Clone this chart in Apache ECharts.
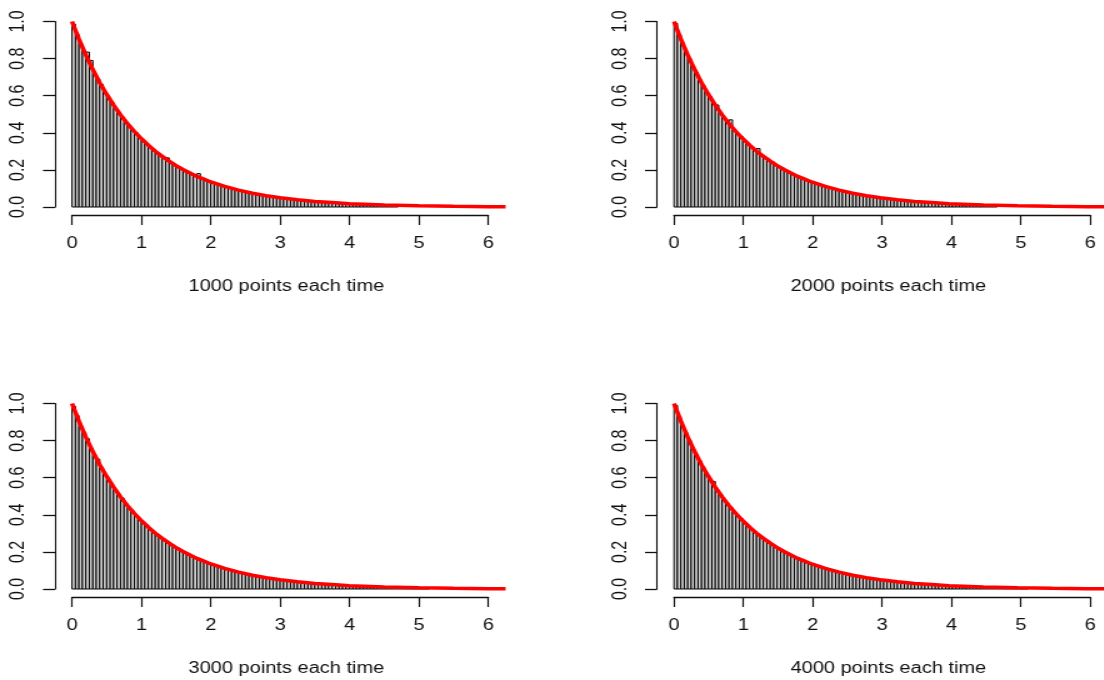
<!DOCTYPE html>
<html>
<head>
<meta charset="utf-8">
<script src="https://cdn.jsdelivr.net/npm/echarts@6/dist/echarts.min.js"></script>
<style>
  html, body { margin: 0; padding: 0; background: #fff; overflow: hidden; }
  /* the plot is laid out on a narrower canvas and widened, like the original device */
  #chart { width: 883.2px; height: 680px; transform: scaleX(1.25); transform-origin: 0 0; }
</style>
</head>
<body>
<div id="chart"></div>
<script>
// Histogram bin width (density scale) and panel captions
const binWidth = 0.05;
const panelTitles = ['1000 points each time', '2000 points each time', '3000 points each time', '4000 points each time'];
const xTickLabels = ['0', '1', '2', '3', '4', '5', '6'];
const yTickLabels = ['0.0', '0.2', '0.4', '0.6', '0.8', '1.0'];

// Bin densities, one value per 0.05-wide bin starting at 0
const density1000 = [
  0.985, 0.93, 0.88, 0.84, 0.835, 0.79, 0.72, 0.69, 0.66, 0.62, 0.59, 0.565, 0.53, 0.51, 0.485, 0.455, 0.44, 0.415, 0.40, 0.375,
  0.36, 0.34, 0.325, 0.31, 0.29, 0.28, 0.265, 0.265, 0.24, 0.23, 0.215, 0.205, 0.19, 0.19, 0.18, 0.175, 0.18, 0.155, 0.145, 0.14,
  0.13, 0.125, 0.12, 0.115, 0.105, 0.10, 0.097, 0.092, 0.088, 0.083, 0.079, 0.074, 0.072, 0.068, 0.066, 0.061, 0.058, 0.056, 0.053, 0.051,
  0.048, 0.046, 0.044, 0.041, 0.040, 0.037, 0.036, 0.034, 0.032, 0.031, 0.029, 0.028, 0.027, 0.024, 0.024, 0.022, 0.022, 0.020, 0.019, 0.019,
  0.018, 0.017, 0.015, 0.016, 0.014, 0.013, 0.012, 0.013, 0.011, 0.010, 0.011, 0.009, 0.010, 0.012
];
const density2000 = [
  0.99, 0.93, 0.885, 0.835, 0.80, 0.76, 0.725, 0.685, 0.655, 0.62, 0.595, 0.56, 0.55, 0.505, 0.485, 0.46, 0.47, 0.415, 0.395, 0.38,
  0.355, 0.34, 0.325, 0.31, 0.315, 0.28, 0.265, 0.25, 0.245, 0.23, 0.215, 0.21, 0.195, 0.185, 0.18, 0.17, 0.16, 0.152, 0.146, 0.138,
  0.131, 0.126, 0.12, 0.113, 0.108, 0.103, 0.098, 0.093, 0.088, 0.084, 0.080, 0.076, 0.072, 0.069, 0.065, 0.063, 0.059, 0.056, 0.054, 0.051,
  0.049, 0.046, 0.044, 0.042, 0.040, 0.038, 0.036, 0.034, 0.033, 0.031, 0.029, 0.028, 0.027, 0.025, 0.024, 0.023, 0.022, 0.021, 0.020, 0.019,
  0.018, 0.017, 0.016, 0.015, 0.015, 0.014, 0.013, 0.012, 0.012, 0.011, 0.010, 0.010, 0.009, 0.012
];
const density3000 = [
  0.985, 0.935, 0.875, 0.845, 0.81, 0.76, 0.72, 0.70, 0.655, 0.62, 0.59, 0.56, 0.535, 0.51, 0.49, 0.46, 0.435, 0.42, 0.395, 0.375,
  0.36, 0.345, 0.32, 0.305, 0.295, 0.28, 0.265, 0.25, 0.24, 0.23, 0.22, 0.205, 0.195, 0.19, 0.175, 0.17, 0.16, 0.155, 0.145, 0.14,
  0.13, 0.125, 0.12, 0.112, 0.108, 0.104, 0.097, 0.093, 0.089, 0.084, 0.079, 0.076, 0.073, 0.068, 0.066, 0.062, 0.060, 0.056, 0.053, 0.051,
  0.049, 0.046, 0.044, 0.042, 0.040, 0.038, 0.036, 0.034, 0.032, 0.031, 0.030, 0.028, 0.027, 0.025, 0.024, 0.023, 0.022, 0.021, 0.020, 0.019,
  0.018, 0.017, 0.016, 0.015, 0.015, 0.014, 0.013, 0.012, 0.012, 0.011, 0.010, 0.010, 0.009, 0.009, 0.008, 0.008, 0.007, 0.007, 0.007, 0.006,
  0.006, 0.006, 0.005
];
const density4000 = [
  0.99, 0.93, 0.88, 0.84, 0.80, 0.755, 0.725, 0.69, 0.655, 0.62, 0.59, 0.58, 0.535, 0.51, 0.485, 0.46, 0.44, 0.415, 0.395, 0.38,
  0.36, 0.34, 0.325, 0.31, 0.295, 0.28, 0.265, 0.255, 0.24, 0.23, 0.22, 0.205, 0.197, 0.187, 0.178, 0.17, 0.16, 0.153, 0.146, 0.139,
  0.132, 0.125, 0.12, 0.114, 0.108, 0.103, 0.098, 0.093, 0.088, 0.084, 0.080, 0.076, 0.072, 0.069, 0.066, 0.062, 0.059, 0.056, 0.054, 0.051,
  0.049, 0.046, 0.044, 0.042, 0.040, 0.038, 0.036, 0.034, 0.033, 0.031, 0.029, 0.028, 0.027, 0.025, 0.024, 0.023, 0.022, 0.021, 0.020, 0.019,
  0.018, 0.017, 0.016, 0.015, 0.014, 0.014, 0.013, 0.012, 0.011, 0.011, 0.010, 0.010, 0.009, 0.009, 0.008, 0.008, 0.007, 0.007, 0.006, 0.006,
  0.006, 0.005, 0.005
];

// Reference density curve drawn over every histogram
const curveX = [0, 0.1, 0.2, 0.3, 0.4, 0.5, 0.6, 0.7, 0.8, 0.9, 1.0, 1.1, 1.2, 1.3, 1.4, 1.5, 1.6, 1.7, 1.8, 1.9,
                2.0, 2.2, 2.4, 2.6, 2.8, 3.0, 3.25, 3.5, 3.75, 4.0, 4.5, 5.0, 5.5, 6.0, 6.25];
const curveY = [1.000, 0.905, 0.819, 0.741, 0.670, 0.607, 0.549, 0.497, 0.449, 0.407, 0.368, 0.333, 0.301, 0.273, 0.247, 0.223, 0.202, 0.183, 0.165, 0.150,
                0.135, 0.111, 0.091, 0.074, 0.061, 0.050, 0.039, 0.030, 0.024, 0.018, 0.011, 0.007, 0.004, 0.002, 0.002];

const panelDensities = [density1000, density2000, density3000, density4000];

// Layout (canvas units before the horizontal widening)
const unit = 55.5;            // pixels per x unit
const xDataMax = 6.25;        // right edge of the plotting region
const plotHeight = 185.5;
const panelPos = [
  { left: 57.6, top: 21.5 }, { left: 539.2, top: 21.5 },
  { left: 57.6, top: 403.5 }, { left: 539.2, top: 403.5 }
];
const FONT = '"Liberation Sans", Arial, sans-serif';
const INK = '#111';

const grid = [], xAxis = [], yAxis = [], series = [], title = [];

panelPos.forEach((p, i) => {
  const g = i * 2;       // plotting grid
  const a = i * 2 + 1;   // axis grid (x axis spans 0..6 only)
  grid.push({ left: p.left, top: p.top, width: unit * xDataMax, height: plotHeight });
  grid.push({ left: p.left, top: p.top, width: unit * 6, height: plotHeight });

  xAxis.push({ gridIndex: g, type: 'value', min: 0, max: xDataMax, show: false });
  xAxis.push({
    gridIndex: a, type: 'value', min: 0, max: 6, interval: 1, offset: 8,
    axisLine: { show: true, onZero: false, lineStyle: { color: INK, width: 1.3 } },
    axisTick: { show: true, length: 10, lineStyle: { color: INK, width: 1.2 } },
    axisLabel: { margin: 21, fontSize: 16, fontFamily: FONT, color: INK,
                 formatter: v => xTickLabels[Math.round(v)] },
    splitLine: { show: false }
  });

  yAxis.push({
    gridIndex: g, type: 'value', min: 0, max: 1, interval: 0.2, offset: 13.6,
    axisLine: { show: true, onZero: false, lineStyle: { color: INK, width: 1.1 } },
    axisTick: { show: true, length: 9.6, lineStyle: { color: INK, width: 1.3 } },
    axisLabel: { rotate: 90, margin: 21, fontSize: 16, fontFamily: FONT, color: INK,
                 formatter: v => yTickLabels[Math.round(v * 5)] },
    splitLine: { show: false }
  });
  yAxis.push({ gridIndex: a, type: 'value', min: 0, max: 1, show: false });

  const bins = panelDensities[i].map((h, k) => [k * binWidth, (k + 1) * binWidth, h]);
  series.push({
    type: 'custom', xAxisIndex: g, yAxisIndex: g, data: bins, silent: true,
    renderItem: (params, api) => {
      const top = api.coord([api.value(0), api.value(2)]);
      const base = api.coord([api.value(1), 0]);
      return {
        type: 'rect',
        shape: { x: top[0], y: top[1], width: base[0] - top[0], height: base[1] - top[1] },
        style: { fill: '#d3d3d3', stroke: '#000', lineWidth: 1 }
      };
    }
  });
  series.push({
    type: 'line', xAxisIndex: g, yAxisIndex: g, z: 5, clip: false, silent: true,
    showSymbol: false, animation: false,
    data: curveX.map((x, k) => [x, curveY[k]]),
    lineStyle: { color: '#ff0000', width: 3.5 }
  });

  title.push({
    text: panelTitles[i],
    left: p.left + unit * 3, top: p.top + plotHeight + 75,
    textAlign: 'center', textVerticalAlign: 'middle',
    textStyle: { fontSize: 16, fontWeight: 'normal', fontFamily: FONT, color: INK }
  });
});

const chart = echarts.init(document.getElementById('chart'), null, { renderer: 'canvas' });
chart.setOption({ animation: false, backgroundColor: '#fff', title, grid, xAxis, yAxis, series });
</script>
</body>
</html>
